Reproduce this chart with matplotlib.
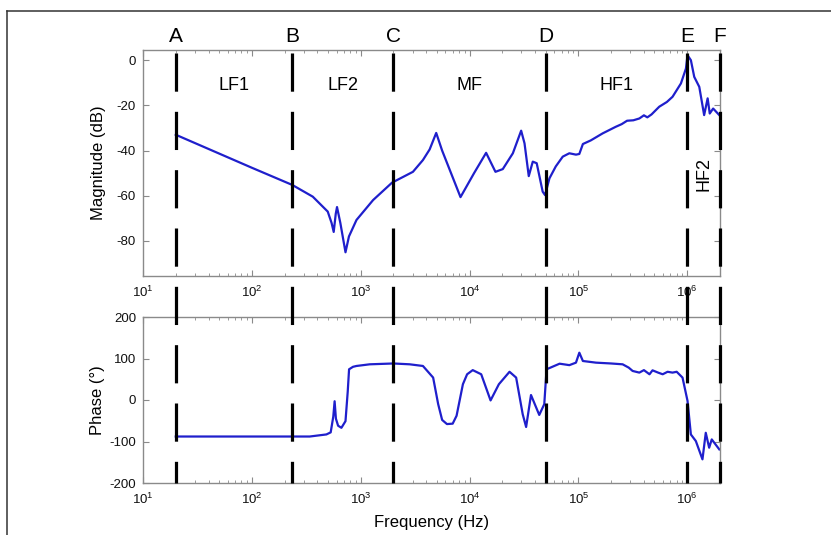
"""Bode plot (magnitude + phase) split into frequency bands A..F."""

import matplotlib

matplotlib.use("Agg")
import matplotlib.pyplot as plt
import numpy as np
from matplotlib.lines import Line2D
from matplotlib.transforms import blended_transform_factory

plt.rcParams["font.family"] = ["Liberation Sans", "DejaVu Sans"]
plt.rcParams["mathtext.fontset"] = "custom"
plt.rcParams["mathtext.rm"] = "Liberation Sans"
plt.rcParams["mathtext.default"] = "regular"
plt.rcParams["axes.unicode_minus"] = False
plt.rcParams["lines.scale_dashes"] = False

# Band boundaries (Hz) and their letters
bound_freq = [20, 235, 2000, 50000, 1e6, 2e6]
bound_names = ["A", "B", "C", "D", "E", "F"]
band_names = ["LF1", "LF2", "MF", "HF1", "HF2"]

# Magnitude (dB)
mag_freq = [20, 100, 235, 363, 498, 540, 565, 590, 606, 650, 725, 780, 915,
            1300, 1940, 3020, 3730, 4300, 4940, 5600, 8260, 11000, 14200,
            17300, 20200, 25000, 29800, 32000, 35000, 38100, 41400, 47000,
            49400, 54200, 62000, 71800, 78000, 82600, 95000, 102000, 110000,
            130000, 167000, 220000, 250000, 280000, 320000, 363000, 400000,
            430000, 470000, 553000, 650000, 733000, 875000, 973000, 1006000,
            1080000, 1160000, 1290000, 1430000, 1540000, 1610000, 1730000,
            1970000]
mag_db = [-33, -47.6, -55.2, -60.4, -67, -72, -76, -68, -65, -72, -85, -78,
          -70.7, -61.9, -54.2, -49.4, -44.2, -39.5, -32.2, -40, -60.6, -50,
          -41, -49.4, -48.2, -41.2, -31.2, -36.8, -51.3, -44.9, -45.6, -58.2,
          -59.7, -52.3, -47, -42.7, -41.8, -41.2, -41.8, -41.5, -37.1, -35.5,
          -32.4, -29.5, -28.3, -26.8, -26.6, -25.8, -24.4, -25.3, -24, -20.6,
          -18.5, -16.2, -10.3, -3.7, 2.2, 0, -7.4, -11.8, -24.3, -16.9, -23.6,
          -21.4, -24.3]

# Phase (deg)
ph_freq = [20, 340, 484, 530, 560, 576, 592, 620, 665, 725, 760, 782, 850,
           915, 1210, 2000, 2820, 3730, 4630, 5150, 5600, 6200, 7000, 7600,
           8690, 9500, 10700, 12800, 15600, 18600, 23300, 26800, 30800, 33100,
           36700, 43700, 48600, 51000, 67200, 82600, 95000, 102000, 110000,
           145000, 200000, 255000, 290000, 315000, 363000, 400000, 450000,
           480000, 540000, 595000, 660000, 733000, 800000, 905000, 1006000,
           1080000, 1200000, 1380000, 1480000, 1590000, 1680000, 1970000]
ph_deg = [-88, -88, -83, -78, -40, -3, -45, -62, -67, -51, 20, 74, 80, 82, 86,
          88, 86, 82, 54, -10, -48, -58, -57, -38, 38, 62, 72, 62, -1, 38, 68,
          54, -34.5, -65, 12, -36, -10, 74, 87.5, 84, 90, 114, 94, 90, 88, 86,
          78, 70, 66, 72, 62, 71.5, 66, 62, 68, 66, 68, 54, -2, -83, -99,
          -143, -79, -115, -95, -119]

W, H = 831, 535
fig = plt.figure(figsize=(W / 100, H / 100), dpi=100)


def px_box(left, top, right, bottom):
    return [left / W, (H - bottom) / H, (right - left) / W, (bottom - top) / H]


ax1 = fig.add_axes(px_box(143, 50, 720, 276))
ax2 = fig.add_axes(px_box(143, 317, 720, 483))

blue = "#1f1fcc"
ax1.semilogx(mag_freq, mag_db, color=blue, lw=1.6)
ax2.semilogx(ph_freq, ph_deg, color=blue, lw=1.6)

ax1.set_ylim(-95.5, 4.5)
ax1.set_yticks([0, -20, -40, -60, -80])
ax2.set_ylim(-200, 200)
ax2.set_yticks([200, 100, 0, -100, -200])

for ax in (ax1, ax2):
    ax.set_xlim(10, 2e6)
    ax.set_xticks([1e1, 1e2, 1e3, 1e4, 1e5, 1e6])
    ax.tick_params(which="both", direction="in", top=True, right=True,
                   color="#8a8a8a", labelsize=9.5, labelcolor="#111111")
    ax.tick_params(which="major", length=4)
    ax.tick_params(which="minor", length=2.5)
    ax.tick_params(axis="x", pad=6)
    ax.tick_params(axis="y", pad=5)
    for s in ax.spines.values():
        s.set_color("#8a8a8a")
        s.set_linewidth(1.0)

ax1.set_ylabel("Magnitude (dB)", fontsize=12)
ax1.yaxis.set_label_coords(-0.064, 0.5)
ax2.set_ylabel("Phase (°)", fontsize=12)
ax2.yaxis.set_label_coords(-0.066, 0.5)
ax2.set_xlabel("Frequency (Hz)", fontsize=12)
ax2.xaxis.set_label_coords(0.5, -0.19)

# Dashed band boundaries running through both panels, with letters on top
trans = blended_transform_factory(ax1.transData, fig.transFigure)
y_top, y_bot = (H - 53) / H, (H - 483) / H
for f, name in zip(bound_freq, bound_names):
    fig.add_artist(Line2D([f, f], [y_top, y_bot], transform=trans,
                          color="black", lw=2.3, linestyle=(0, (27.5, 14.5)),
                          clip_on=False))
    fig.text(f, (H - 36) / H, name, transform=trans, ha="center",
             va="center", fontsize=15)

# Band names centred (geometrically) between boundaries
for i, name in enumerate(band_names):
    fc = np.sqrt(bound_freq[i] * bound_freq[i + 1])
    if name == "HF2":
        ax1.text(fc, -50.5, name, ha="center", va="center", fontsize=13,
                 rotation=90)
    else:
        ax1.text(fc, -11, name, ha="center", va="center", fontsize=13)

# Page frame (top and left edges)
fig.add_artist(Line2D([7 / W, 7 / W], [0, (H - 11) / H], transform=fig.transFigure,
                      color="#333333", lw=1.1))
fig.add_artist(Line2D([7 / W, 1], [(H - 11) / H, (H - 11) / H],
                      transform=fig.transFigure, color="#333333", lw=1.1))

fig.savefig("out.png", dpi=100)
